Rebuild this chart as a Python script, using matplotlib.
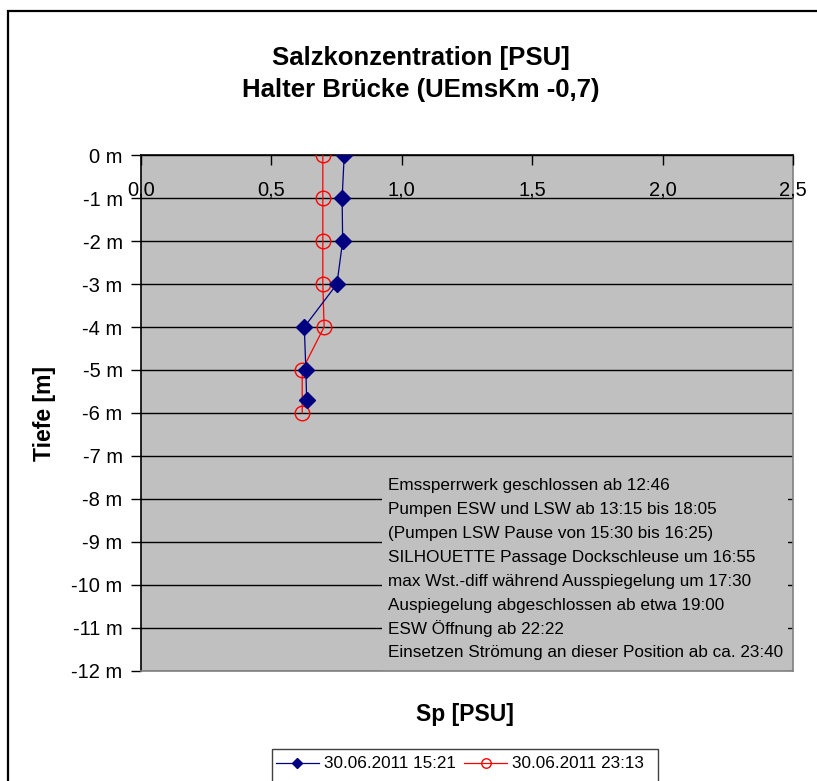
import matplotlib
matplotlib.use("Agg")
import matplotlib.pyplot as plt
from matplotlib.patches import Rectangle

plt.rcParams['font.family'] = ['Liberation Sans', 'DejaVu Sans']

# profile 30.06.2011 15:21
depth_1521 = [0, -1, -2, -3, -4, -5, -5.7]
sp_1521 = [0.780, 0.772, 0.774, 0.752, 0.627, 0.633, 0.636]
# profile 30.06.2011 23:13
depth_2313 = [0, -1, -2, -3, -4, -5, -6]
sp_2313 = [0.698, 0.698, 0.698, 0.698, 0.703, 0.619, 0.619]

labels = ["30.06.2011 15:21", "30.06.2011 23:13"]
x_ticks = [0.0, 0.5, 1.0, 1.5, 2.0, 2.5]
y_ticks = list(range(0, -13, -1))

notes = [
    "Emssperrwerk geschlossen ab 12:46",
    "Pumpen ESW und LSW ab 13:15 bis 18:05",
    "(Pumpen LSW Pause von 15:30 bis 16:25)",
    "SILHOUETTE Passage Dockschleuse um 16:55",
    "max Wst.-diff während Ausspiegelung um 17:30",
    "Auspiegelung abgeschlossen ab etwa 19:00",
    "ESW Öffnung ab 22:22",
    "Einsetzen Strömung an dieser Position ab ca. 23:40",
]

W, H = 817, 781
fig = plt.figure(figsize=(W / 100, H / 100), dpi=100)
ax = fig.add_axes([140.7 / W, 1 - 670.5 / H, (793 - 140.7) / W, (670.5 - 155.3) / H])
ax.set_facecolor("#c0c0c0")
ax.set_xlim(0, 2.5)
ax.set_ylim(-12, 0)

# horizontal grid
for y in y_ticks:
    ax.axhline(y, color="black", lw=1.0, zorder=1)

# x axis sits at depth 0 (top), labels below it
ax.spines['bottom'].set_position(('data', 0))
ax.spines['bottom'].set_color("black")
ax.spines['top'].set_position(('data', -12))
ax.spines['top'].set_color("#808080")
ax.spines['right'].set_color("#808080")
ax.spines['right'].set_zorder(1.5)
ax.spines['left'].set_color("black")
for s in ax.spines.values():
    s.set_linewidth(1.2)

ax.set_xticks(x_ticks)
ax.set_xticklabels([f"{v:.1f}".replace(".", ",") for v in x_ticks])
ax.set_yticks(y_ticks)
ax.set_yticklabels([f"{v} m" for v in y_ticks])
ax.tick_params(axis='x', direction='out', length=7, pad=11, labelsize=14.5, width=1)
ax.tick_params(axis='y', direction='out', length=7, pad=6, labelsize=14.5, width=1)

# text box with the timeline
ax.add_patch(Rectangle((0.925, -12), 2.48 - 0.925, 12 - 7.23, facecolor="#c0c0c0",
                       edgecolor="none", zorder=2))
for i, line in enumerate(notes):
    ax.text(0.947, -7.69 - i * 0.557, line, ha='left', va='center', fontsize=12.3, zorder=3)

ax.plot(sp_1521, depth_1521, color="#000080", lw=0.9, marker="D", ms=8.5,
        mfc="#000080", mec="#000080", zorder=5, label=labels[0])
ax.plot(sp_2313, depth_2313, color="#ff0000", lw=0.9, marker="o", ms=10.5,
        mfc="none", mec="#ff0000", mew=1.0, zorder=4, label=labels[1])

# titles and axis names
fig.text(421 / W, 1 - 58 / H, "Salzkonzentration [PSU]", ha='center', va='center',
         fontsize=18.5, fontweight='bold')
fig.text(421 / W, 1 - 90 / H, "Halter Brücke (UEmsKm -0,7)", ha='center', va='center',
         fontsize=18.5, fontweight='bold')
fig.text(465 / W, 1 - 715 / H, "Sp [PSU]", ha='center', va='center',
         fontsize=16.5, fontweight='bold')
fig.text(45 / W, 1 - 414 / H, "Tiefe [m]", ha='center', va='center', rotation=90,
         fontsize=16.5, fontweight='bold')

# legend
leg = fig.legend(loc='center left', bbox_to_anchor=(276 / W, 1 - 764 / H), ncol=2,
                 frameon=False, fontsize=12.3, handlelength=2.5, handletextpad=0.3,
                 columnspacing=0.5, markerscale=0.65, borderaxespad=0, borderpad=0)
fig.add_artist(Rectangle((272 / W, -0.05), (658 - 272) / W, 0.05 + 1 - 749 / H,
                         transform=fig.transFigure, fill=False, edgecolor="#404040", lw=1.0))

# outer chart border
fig.add_artist(Rectangle((8 / W, -0.05), 1.1, 0.05 + 1 - 10.7 / H,
                         transform=fig.transFigure, fill=False, edgecolor="black", lw=1.6))

fig.savefig("out.png", dpi=100)
